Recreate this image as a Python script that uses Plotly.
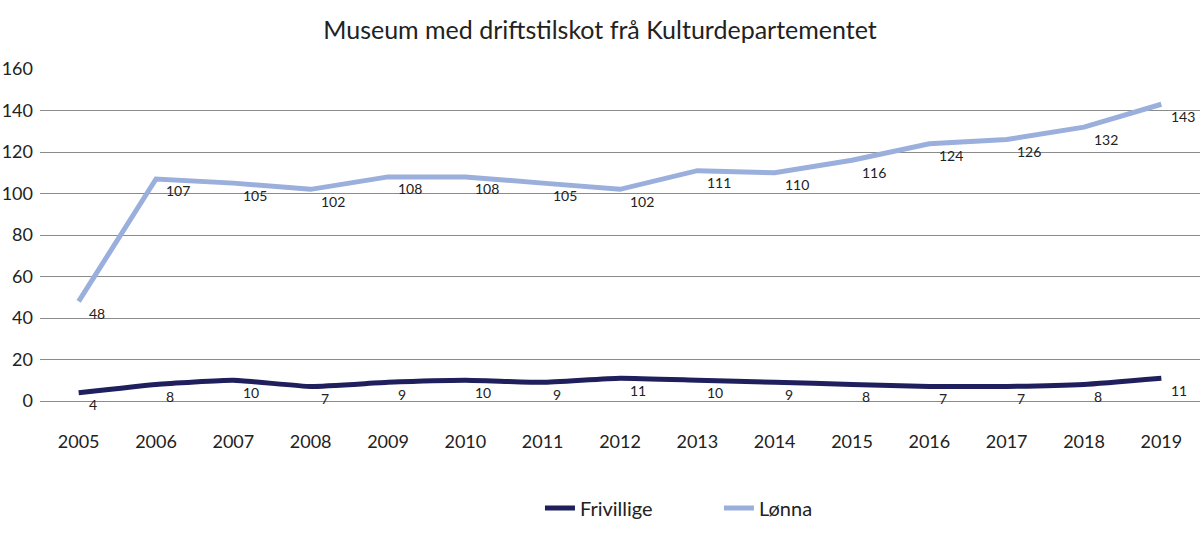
import plotly.graph_objects as go

years = ["2005", "2006", "2007", "2008", "2009", "2010", "2011", "2012",
         "2013", "2014", "2015", "2016", "2017", "2018", "2019"]
frivillige = [4, 8, 10, 7, 9, 10, 9, 11, 10, 9, 8, 7, 7, 8, 11]
lonna = [48, 107, 105, 102, 108, 108, 105, 102, 111, 110, 116, 124, 126, 132, 143]

FONT = "Lato"
TXT = "#222222"

fig = go.Figure()
fig.add_trace(go.Scatter(
    x=years, y=frivillige, name="Frivillige", mode="lines",
    line=dict(color="#1e1f5c", width=5, shape="spline", smoothing=0.4),
))
fig.add_trace(go.Scatter(
    x=years, y=lonna, name="Lønna", mode="lines",
    line=dict(color="#9bafdd", width=5),
))

annotations = []
for series in (frivillige, lonna):
    for i, v in enumerate(series):
        annotations.append(dict(
            x=i, y=v, xref="x", yref="y", text=str(v), showarrow=False,
            xanchor="left", yanchor="middle", xshift=8, yshift=-12,
            font=dict(family=FONT, size=14, color=TXT),
        ))

fig.update_layout(
    width=1200, height=535,
    margin=dict(l=40, r=0, t=69, b=134, autoexpand=False),
    paper_bgcolor="white", plot_bgcolor="white",
    font=dict(family=FONT, size=18, color=TXT),
    title=dict(text="Museum med driftstilskot frå Kulturdepartementet",
               x=0.5, xanchor="center", y=0.944, yanchor="middle",
               font=dict(family=FONT, size=25, color=TXT)),
    showlegend=True,
    legend=dict(orientation="h", x=0.431, xanchor="left", y=-0.322, yanchor="middle",
                font=dict(family=FONT, size=20, color=TXT),
                itemwidth=30, entrywidth=134, entrywidthmode="pixels"),
    annotations=annotations,
    xaxis=dict(type="category", range=[-0.5, 14.5], showgrid=False,
               showline=False, ticks="", ticklen=0, automargin=False,
               tickfont=dict(family=FONT, size=18),
               ticklabelstandoff=28),
    yaxis=dict(range=[0, 160], dtick=20, showgrid=True, gridcolor="#8a8a8a",
               gridwidth=1, zeroline=True, zerolinecolor="#8a8a8a", zerolinewidth=1,
               showline=False, ticks="", tickfont=dict(family=FONT, size=18),
               ticklabelstandoff=6, automargin=False, fixedrange=True),
)

fig.write_html("out.html", config={"displayModeBar": False},
               post_script="document.body.style.margin='0';")
